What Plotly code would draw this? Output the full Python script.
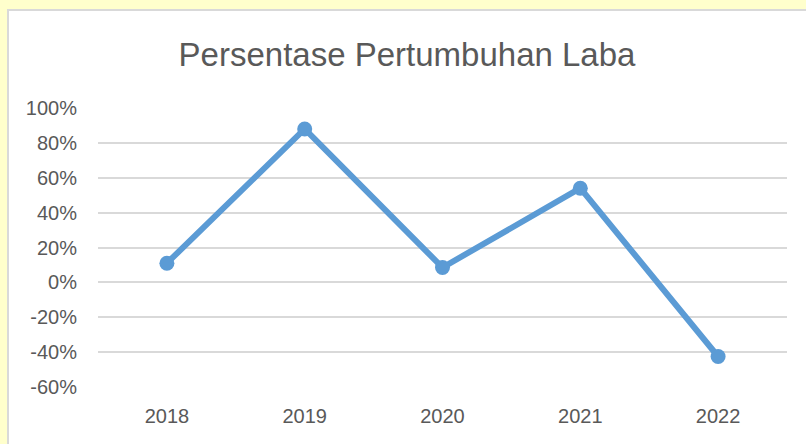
import plotly.graph_objects as go

years = ["2018", "2019", "2020", "2021", "2022"]
growth_pct = [11, 88, 8.5, 54, -42.5]
y_ticks = [-60, -40, -20, 0, 20, 40, 60, 80, 100]
y_tick_labels = [f"{v}%" for v in y_ticks]
title_text = "Persentase Pertumbuhan Laba"

fig = go.Figure()
fig.add_trace(go.Scatter(
    x=years, y=growth_pct, mode="lines+markers",
    line=dict(color="#5B9BD5", width=6),
    marker=dict(color="#5B9BD5", size=15),
    showlegend=False, cliponaxis=False,
))

fig.update_layout(
    width=806, height=444,
    margin=dict(l=98, r=19, t=108, b=57),
    paper_bgcolor="#FFFFCC",
    plot_bgcolor="white",
    title=dict(text=title_text, x=0.505, xanchor="center", y=1 - 54/444, yanchor="middle",
               font=dict(family="Liberation Sans", size=33, color="#595959")),
    font=dict(family="Liberation Sans", color="#595959"),
    shapes=[
        dict(type="line", xref="paper", yref="paper", x0=-0.05, x1=-0.02, y0=1.28, y1=1.23,
             line=dict(color="#C6F2DC", width=12), layer="below"),
        dict(type="rect", xref="paper", yref="paper",
             x0=-(98 - 8) / 689, x1=1 + 30 / 689, y0=-(57 + 10) / 279, y1=1 + (108 - 10) / 279,
             fillcolor="white", line=dict(color="#D9D9D9", width=2), layer="below"),
    ],
)
fig.update_xaxes(
    type="category", range=[-0.5, 4.5], showgrid=False, zeroline=False, showline=False,
    ticks="", tickfont=dict(size=20, color="#595959"), ticklabelstandoff=15,
)
fig.update_yaxes(
    range=[-60, 100], tickvals=y_ticks, ticktext=y_tick_labels,
    showgrid=True, gridcolor="#D9D9D9", gridwidth=2, zeroline=False, showline=False,
    ticks="", tickfont=dict(size=20, color="#595959"), ticklabelstandoff=20,
)

fig.write_html(
    "out.html",
    config={"displayModeBar": False},
    post_script="document.body.style.margin='0';document.body.style.overflow='hidden';document.body.style.background='#FFFFCC';",
)
